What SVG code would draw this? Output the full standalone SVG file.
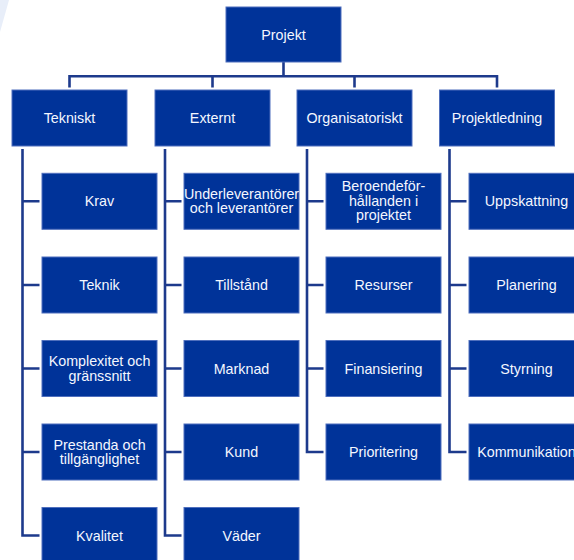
<svg xmlns="http://www.w3.org/2000/svg" width="574" height="560" viewBox="0 0 574 560">
<style>
.box{fill:#003399;stroke:#4f6fbd;stroke-width:1}
.t{font-family:"Liberation Sans",Arial,sans-serif;font-size:14.3px;fill:#f4f7ff;text-anchor:middle}
.c{fill:none;stroke:#1d3a8c;stroke-width:2.6;stroke-linejoin:miter;stroke-linecap:butt}
</style>
<rect width="574" height="560" fill="#ffffff"/>
<polygon points="0,0 9,0 0,32" fill="#e8eef9"/>
<g id="connectors" class="c">
<path d="M283.5 62 V76.3"/>
<path d="M69.5 87.5 V76.3 H497 V87.5"/>
<path d="M212.5 76.3 V87.5"/>
<path d="M354.5 76.3 V87.5"/>
<path d="M22.5 149 V535.5 H39.5"/>
<path d="M22.5 201.3 H39.5 M22.5 285 H39.5 M22.5 368.5 H39.5 M22.5 452 H39.5"/>
<path d="M165 149 V535.5 H181.5"/>
<path d="M165 201.3 H181.5 M165 285 H181.5 M165 368.5 H181.5 M165 452 H181.5"/>
<path d="M307 149 V452 H323.5"/>
<path d="M307 201.3 H323.5 M307 285 H323.5 M307 368.5 H323.5"/>
<path d="M449.5 149 V452 H466.5"/>
<path d="M449.5 201.3 H466.5 M449.5 285 H466.5 M449.5 368.5 H466.5"/>
</g>
<g id="projekt"><rect class="box" x="226" y="7" width="115" height="55"/><text class="t" x="283.5" y="39.5">Projekt</text></g>
<g id="tekniskt"><rect class="box" x="12" y="90" width="115" height="56"/><text class="t" x="69.5" y="123">Tekniskt</text></g>
<g id="externt"><rect class="box" x="155" y="90" width="115" height="56"/><text class="t" x="212.5" y="123">Externt</text></g>
<g id="organisatoriskt"><rect class="box" x="297" y="90" width="115" height="56"/><text class="t" x="354.5" y="123">Organisatoriskt</text></g>
<g id="projektledning"><rect class="box" x="439.5" y="90" width="115" height="56"/><text class="t" x="497" y="123">Projektledning</text></g>

<g id="krav"><rect class="box" x="42" y="173.3" width="115" height="56"/><text class="t" x="99.5" y="206.3">Krav</text></g>
<g id="teknik"><rect class="box" x="42" y="257" width="115" height="56"/><text class="t" x="99.5" y="290">Teknik</text></g>
<g id="komplexitet"><rect class="box" x="42" y="340.5" width="115" height="56"/><text class="t" x="99.5" y="366.3">Komplexitet och</text><text class="t" x="99.5" y="380.6">gränssnitt</text></g>
<g id="prestanda"><rect class="box" x="42" y="424" width="115" height="56"/><text class="t" x="99.5" y="449.6">Prestanda och</text><text class="t" x="99.5" y="464">tillgänglighet</text></g>
<g id="kvalitet"><rect class="box" x="42" y="507.5" width="115" height="56"/><text class="t" x="99.5" y="540.5">Kvalitet</text></g>

<g id="underleverantorer"><rect class="box" x="184" y="173.3" width="115" height="56"/><text class="t" x="241.5" y="198.5">Underleverantörer</text><text class="t" x="241.5" y="212.8">och leverantörer</text></g>
<g id="tillstand"><rect class="box" x="184" y="257" width="115" height="56"/><text class="t" x="241.5" y="290">Tillstånd</text></g>
<g id="marknad"><rect class="box" x="184" y="340.5" width="115" height="56"/><text class="t" x="241.5" y="373.5">Marknad</text></g>
<g id="kund"><rect class="box" x="184" y="424" width="115" height="56"/><text class="t" x="241.5" y="457">Kund</text></g>
<g id="vader"><rect class="box" x="184" y="507.5" width="115" height="56"/><text class="t" x="241.5" y="540.5">Väder</text></g>

<g id="beroende"><rect class="box" x="326" y="173.3" width="115" height="56"/><text class="t" x="383.5" y="191.2">Beroendeför-</text><text class="t" x="383.5" y="205.5">hållanden i</text><text class="t" x="383.5" y="219.8">projektet</text></g>
<g id="resurser"><rect class="box" x="326" y="257" width="115" height="56"/><text class="t" x="383.5" y="290">Resurser</text></g>
<g id="finansiering"><rect class="box" x="326" y="340.5" width="115" height="56"/><text class="t" x="383.5" y="373.5">Finansiering</text></g>
<g id="prioritering"><rect class="box" x="326" y="424" width="115" height="56"/><text class="t" x="383.5" y="457">Prioritering</text></g>

<g id="uppskattning"><rect class="box" x="469" y="173.3" width="115" height="56"/><text class="t" x="526.5" y="206.3">Uppskattning</text></g>
<g id="planering"><rect class="box" x="469" y="257" width="115" height="56"/><text class="t" x="526.5" y="290">Planering</text></g>
<g id="styrning"><rect class="box" x="469" y="340.5" width="115" height="56"/><text class="t" x="526.5" y="373.5">Styrning</text></g>
<g id="kommunikation"><rect class="box" x="469" y="424" width="115" height="56"/><text class="t" x="526.5" y="457">Kommunikation</text></g>
</svg>
